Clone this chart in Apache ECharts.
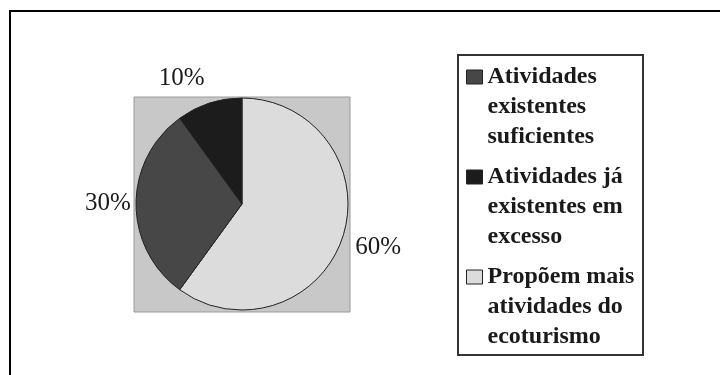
<!DOCTYPE html>
<html><head><meta charset="utf-8">
<script src="https://cdn.jsdelivr.net/npm/echarts@6/dist/echarts.min.js"></script>
<style>html,body{margin:0;padding:0;background:#fff}#c{width:720px;height:375px}</style>
</head><body><div id="c"></div>
<script>
// Categories in legend order
const categories = ['Atividades existentes suficientes', 'Atividades já existentes em excesso', 'Propõem mais atividades do ecoturismo'];
const legendLabels = ['Atividades\nexistentes\nsuficientes', 'Atividades já\nexistentes em\nexcesso', 'Propõem mais\natividades do\necoturismo'];
const values = [30, 10, 60];
// Drawing order of slices (clockwise from 12 o'clock)
const sliceOrder = [2, 0, 1];

const colors = ['#474747', '#1c1c1c', '#dcdcdc'];
const labelNudge = {1: [-17, 8], 0: [6, -1], 2: [3, 0]};

const pieData = sliceOrder.map(i => ({name: categories[i], value: values[i], itemStyle: {color: colors[i]}}));
const labelData = sliceOrder.map(i => ({name: categories[i], value: values[i], label: {offset: labelNudge[i]}}));

const chart = echarts.init(document.getElementById('c'), null, {renderer: 'canvas'});
chart.setOption({
  animation: false,
  backgroundColor: '#fff',
  graphic: [
    {type: 'rect', z: -10, shape: {x: 10, y: 11, width: 730, height: 400}, style: {fill: 'none', stroke: '#000', lineWidth: 2}},
    {type: 'rect', z: -5, shape: {x: 134, y: 97, width: 216, height: 215}, style: {fill: '#c8c8c8', stroke: '#9a9a9a', lineWidth: 1}},
    {type: 'rect', z: -5, shape: {x: 458, y: 55, width: 185, height: 300}, style: {fill: 'none', stroke: '#333', lineWidth: 2}}
  ],
  legend: {
    orient: 'vertical', left: 466, top: 2, padding: 0,
    itemWidth: 16, itemHeight: 14, itemGap: -50,
    icon: 'rect',
    itemStyle: {borderColor: '#222', borderWidth: 1},
    data: categories,
    // two leading blank lines so the icon sits beside the first text line
    formatter: name => '\n\n' + legendLabels[categories.indexOf(name)],
    textStyle: {fontFamily: 'Liberation Serif', fontWeight: 'bold', fontSize: 24, lineHeight: 30, color: '#1a1a1a'},
    selectedMode: false
  },
  series: [
    {
      type: 'pie', center: [242, 204], radius: 106, startAngle: 90, clockwise: true,
      data: pieData,
      itemStyle: {borderColor: '#222', borderWidth: 1},
      label: {show: false}, labelLine: {show: false},
      emphasis: {disabled: true}, silent: true
    },
    {
      type: 'pie', center: [242, 204], radius: [0, 274], startAngle: 90, clockwise: true,
      data: labelData,
      itemStyle: {color: 'rgba(0,0,0,0)', borderWidth: 0},
      label: {show: true, position: 'inside', formatter: p => p.value + '%', fontFamily: 'Liberation Serif', fontSize: 25, color: '#1a1a1a'},
      labelLine: {show: false},
      emphasis: {disabled: true}, silent: true
    }
  ]
});
</script></body></html>
